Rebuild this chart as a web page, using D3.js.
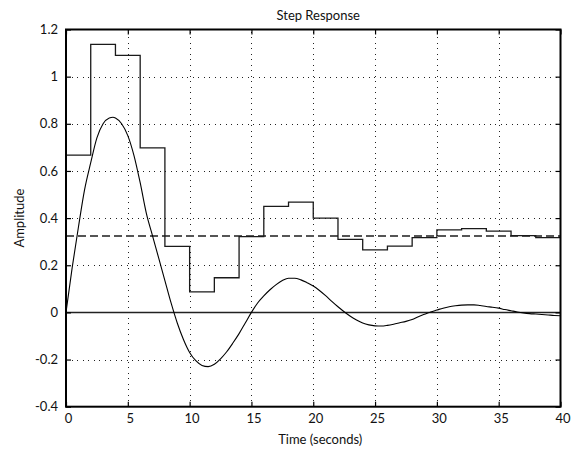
<!DOCTYPE html>
<html>
<head>
<meta charset="utf-8">
<script src="https://cdn.jsdelivr.net/npm/d3@7/dist/d3.min.js"></script>
<style>
  html, body { margin: 0; padding: 0; background: #fff; }
  svg { display: block; }
  text { font-family: Lato, "Open Sans", sans-serif; fill: #111; }
</style>
</head>
<body>
<div id="chart"></div>
<script>
// Sampled (zero-order hold) step response, one level per 2 s sample
const stepTimes  = [0, 2, 4, 6, 8, 10, 12, 14, 16, 18, 20, 22, 24, 26, 28, 30, 32, 34, 36, 38, 40];
const stepValues = [0.667, 1.137, 1.090, 0.698, 0.280, 0.087, 0.147, 0.321, 0.450, 0.468,
                    0.400, 0.310, 0.265, 0.281, 0.317, 0.350, 0.355, 0.345, 0.326, 0.317, 0.317];

// Continuous response
const contTimes  = [0, 0.5, 1, 1.5, 2, 2.5, 3, 3.5, 3.8, 4, 4.5, 5, 5.5, 6, 6.5, 7, 7.5, 8, 8.5, 9,
                    9.5, 10, 10.5, 11, 11.5, 12, 12.5, 13, 13.5, 14, 14.5, 15, 15.5, 16, 16.5, 17, 17.5, 18,
                    18.5, 19, 19.5, 20, 20.5, 21, 21.5, 22, 22.5, 23, 23.5, 24, 24.5, 25, 25.5, 26, 26.5,
                    27, 27.5, 28, 28.5, 29, 29.5, 30, 30.5, 31, 31.5, 32, 32.5, 33, 33.5, 34, 34.5, 35,
                    35.5, 36, 36.5, 37, 37.5, 38, 38.5, 39, 39.5, 40];
const contValues = [0, 0.19, 0.36, 0.52, 0.635, 0.74, 0.80, 0.825, 0.828, 0.825, 0.80, 0.75, 0.665, 0.55, 0.42,
                    0.325, 0.23, 0.135, 0.04, -0.045, -0.115, -0.17, -0.205, -0.225, -0.23, -0.22, -0.197,
                    -0.167, -0.13, -0.09, -0.045, 0.0, 0.04, 0.07, 0.096, 0.118, 0.135, 0.145, 0.145, 0.138,
                    0.126, 0.112, 0.093, 0.071, 0.047, 0.024, 0.003, -0.016, -0.032, -0.045, -0.053, -0.057,
                    -0.058, -0.055, -0.05, -0.044, -0.038, -0.03, -0.018, -0.008, 0.002, 0.01, 0.018, 0.024,
                    0.028, 0.031, 0.032, 0.032, 0.029, 0.025, 0.022, 0.018, 0.012, 0.007, 0.002, -0.002,
                    -0.005, -0.007, -0.009, -0.011, -0.013, -0.014];

const steadyState = 0.324;
const zeroLevel = 0;

const xTicks = [0, 5, 10, 15, 20, 25, 30, 35, 40];
const xTickLabels = ["0", "5", "10", "15", "20", "25", "30", "35", "40"];
const yTicks = [-0.4, -0.2, 0, 0.2, 0.4, 0.6, 0.8, 1, 1.2];
const yTickLabels = ["-0.4", "-0.2", "0", "0.2", "0.4", "0.6", "0.8", "1", "1.2"];

const titleText = "Step Response";
const xLabel = "Time (seconds)";
const yLabel = "Amplitude";

const W = 579, H = 452;
const margin = { left: 66, right: 18.5, top: 29.5, bottom: 45.3 };
const x0 = margin.left, x1 = W - margin.right;
const y0 = H - margin.bottom, y1 = margin.top;
const fontSize = 13;

const x = d3.scaleLinear().domain([0, 40]).range([x0, x1]);
const y = d3.scaleLinear().domain([-0.4, 1.2]).range([y0, y1]);

const svg = d3.select("#chart").append("svg")
  .attr("width", W).attr("height", H);

// Dotted grid
const grid = svg.append("g").attr("stroke", "#222").attr("stroke-width", 1)
  .attr("stroke-dasharray", "1,4.5").attr("shape-rendering", "crispEdges");
grid.selectAll("line.v").data(xTicks.slice(1, -1)).enter().append("line")
  .attr("x1", d => Math.round(x(d)) + 0.5).attr("x2", d => Math.round(x(d)) + 0.5)
  .attr("y1", y0).attr("y2", y1);
grid.selectAll("line.h").data(yTicks.slice(1, -1)).enter().append("line")
  .attr("x1", x0).attr("x2", x1)
  .attr("y1", d => Math.round(y(d)) + 0.5).attr("y2", d => Math.round(y(d)) + 0.5);

// Zero reference line
svg.append("line")
  .attr("x1", x0).attr("x2", x1)
  .attr("y1", y(zeroLevel)).attr("y2", y(zeroLevel))
  .attr("stroke", "#222").attr("stroke-width", 1.5);

// Steady-state level
svg.append("line")
  .attr("x1", x0).attr("x2", x1)
  .attr("y1", y(steadyState)).attr("y2", y(steadyState))
  .attr("stroke", "#555").attr("stroke-width", 1.8)
  .attr("stroke-dasharray", "8,4");

// Staircase response
const stepLine = d3.line()
  .x((d, i) => x(stepTimes[i]))
  .y(d => y(d))
  .curve(d3.curveStepAfter);
svg.append("path")
  .attr("d", stepLine(stepValues))
  .attr("fill", "none").attr("stroke", "#1a1a1a").attr("stroke-width", 1.3);

// Continuous response
const contLine = d3.line()
  .x((d, i) => x(contTimes[i]))
  .y(d => y(d))
  .curve(d3.curveMonotoneX);
svg.append("path")
  .attr("d", contLine(contValues))
  .attr("fill", "none").attr("stroke", "#000").attr("stroke-width", 1.1);

// Axes with inward ticks on all four sides
const tickLen = 5;
svg.append("g").attr("transform", `translate(0,${y0})`)
  .call(d3.axisBottom(x).tickValues(xTicks).tickFormat((d, i) => xTickLabels[i])
    .tickSizeInner(-tickLen).tickSizeOuter(0).tickPadding(7))
  .call(g => g.select(".domain").remove())
  .call(g => g.selectAll("text").attr("font-size", fontSize).attr("dx", 2));
svg.append("g").attr("transform", `translate(0,${y1})`)
  .call(d3.axisTop(x).tickValues(xTicks).tickFormat("").tickSizeInner(-tickLen).tickSizeOuter(0))
  .call(g => g.select(".domain").remove());
svg.append("g").attr("transform", `translate(${x0},0)`)
  .call(d3.axisLeft(y).tickValues(yTicks).tickFormat((d, i) => yTickLabels[i])
    .tickSizeInner(-tickLen).tickSizeOuter(0).tickPadding(8))
  .call(g => g.select(".domain").remove())
  .call(g => g.selectAll("text").attr("font-size", fontSize));
svg.append("g").attr("transform", `translate(${x1},0)`)
  .call(d3.axisRight(y).tickValues(yTicks).tickFormat("").tickSizeInner(-tickLen).tickSizeOuter(0))
  .call(g => g.select(".domain").remove());
svg.selectAll(".tick line").attr("stroke", "#000").attr("stroke-width", 1.2);

// Plot frame
svg.append("rect")
  .attr("x", x0).attr("y", y1)
  .attr("width", x1 - x0).attr("height", y0 - y1)
  .attr("fill", "none").attr("stroke", "#000").attr("stroke-width", 2);

// Titles
svg.append("text").attr("x", (x0 + x1) / 2 + 5).attr("y", 20)
  .attr("text-anchor", "middle").attr("font-size", fontSize).text(titleText);
svg.append("text").attr("x", (x0 + x1) / 2 + 7).attr("y", 444)
  .attr("text-anchor", "middle").attr("font-size", fontSize).text(xLabel);
svg.append("text")
  .attr("transform", `translate(24,${(y0 + y1) / 2}) rotate(-90)`)
  .attr("text-anchor", "middle").attr("font-size", fontSize).text(yLabel);
</script>
</body>
</html>
